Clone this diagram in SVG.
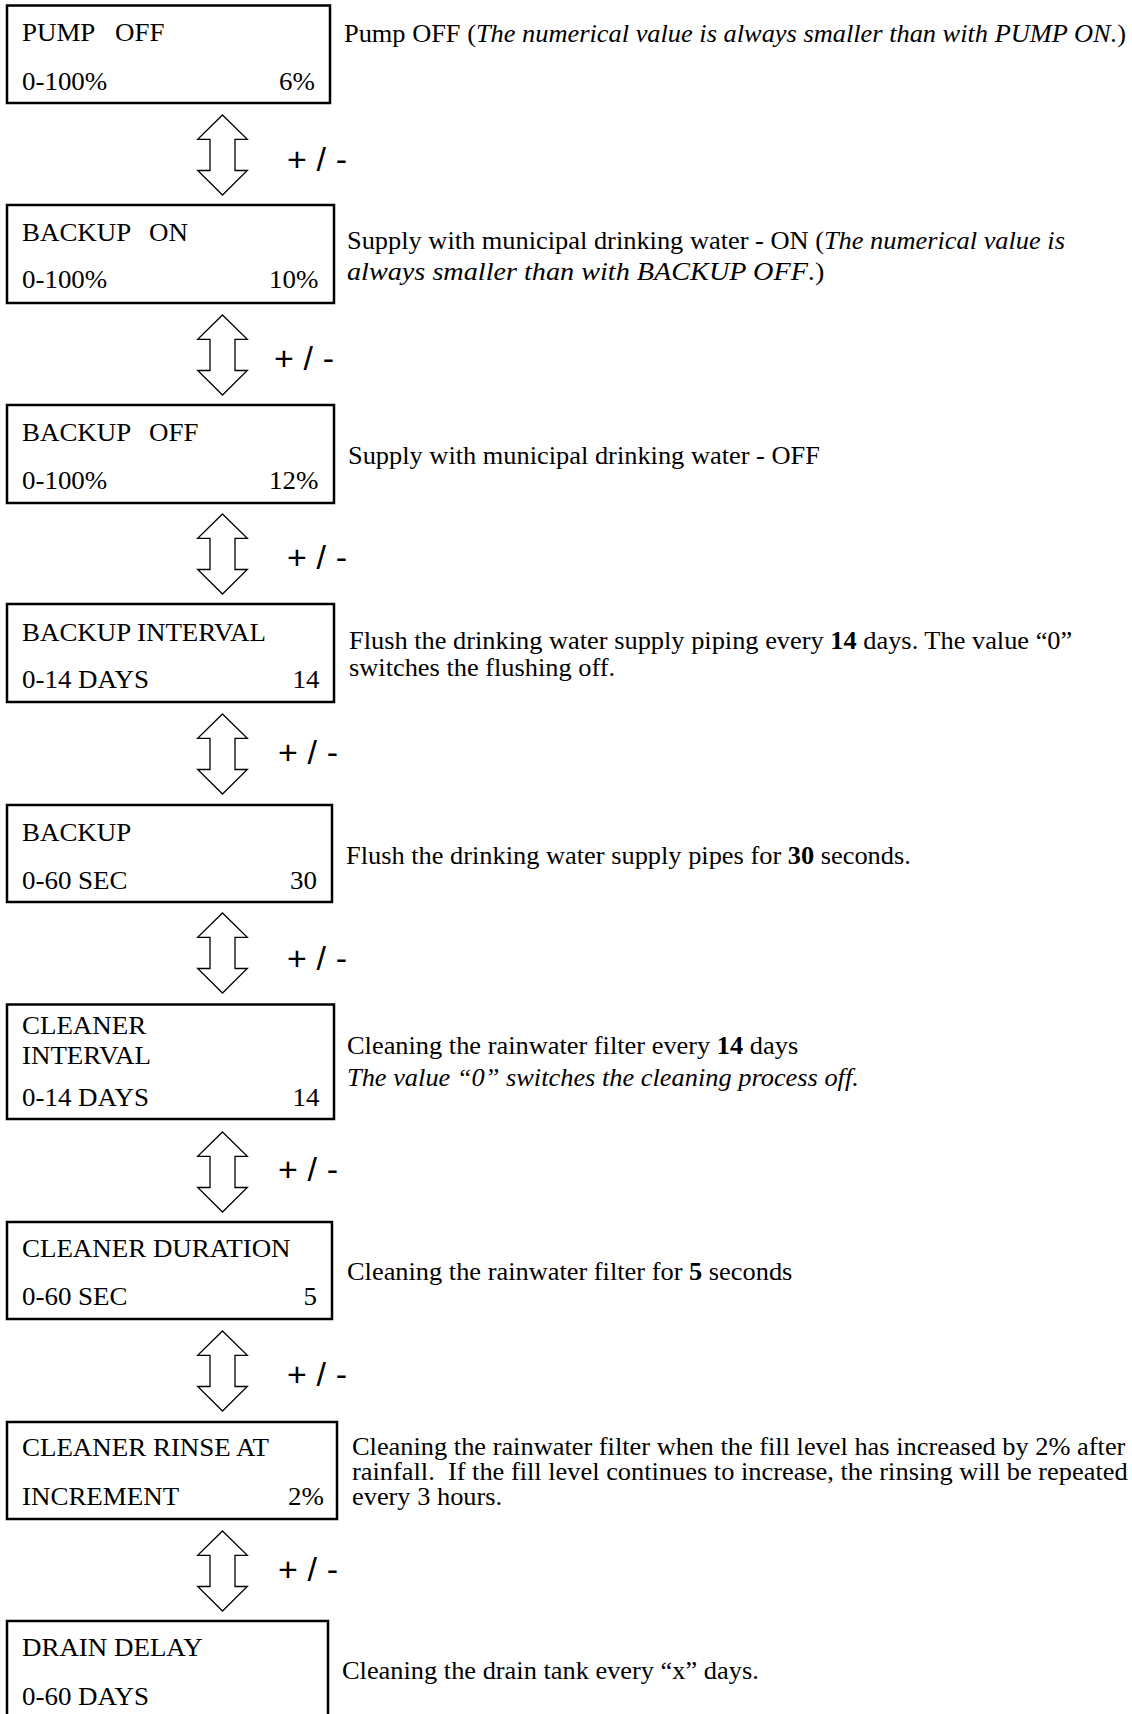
<svg xmlns="http://www.w3.org/2000/svg" width="1132" height="1714" viewBox="0 0 1132 1714">
  <style>
    .box { fill: #ffffff; stroke: #000000; stroke-width: 2.5; }
    .t { font-family: "Liberation Serif", "Times New Roman", serif; font-size: 25.5px; fill: #000000; }
    .d { font-family: "Liberation Serif", "Times New Roman", serif; font-size: 25px; fill: #000000; }
    .r { text-anchor: end; }
    .i { font-style: italic; }
    .b { font-weight: bold; }
    .pm { font-family: "Liberation Sans", Arial, sans-serif; font-size: 34px; fill: #000000; }
    .arrow { fill: #ffffff; stroke: #000000; stroke-width: 1.3; stroke-linejoin: miter; }
  </style>
  <defs>
    <!-- double-headed hollow arrow, tip at origin, 80 tall -->
    <path id="updown" class="arrow" d="M0,0 L24.8,24.3 L12.5,24.3 L12.5,55.5 L24.8,55.5 L0,80 L-24.8,55.5 L-12.5,55.5 L-12.5,24.3 L-24.8,24.3 Z"/>
  </defs>
  <rect width="1132" height="1714" fill="#ffffff"/>

  <!-- menu screens (box text widened 1.057x) and their explanations (1.056x) -->
  <g id="pump-off">
    <rect class="box" x="7" y="5.5" width="323" height="97.5"/>
    <g transform="scale(1.057 1)">
      <text class="t" x="20.81" y="41">PUMP<tspan x="108.8">OFF</tspan></text>
      <text class="t" x="20.81" y="90">0-100%</text>
      <text class="t r" x="298.01" y="90">6%</text>
    </g>
    <g transform="scale(1.056 1)">
      <text class="d" x="325.76" y="42">Pump OFF (<tspan class="i">The numerical value is always smaller than with PUMP ON.</tspan>)</text>
    </g>
  </g>

  <g id="backup-on">
    <rect class="box" x="7" y="205" width="327" height="98"/>
    <g transform="scale(1.057 1)">
      <text class="t" x="20.81" y="241">BACKUP<tspan x="140.96">ON</tspan></text>
      <text class="t" x="20.81" y="288">0-100%</text>
      <text class="t r" x="301.32" y="288">10%</text>
    </g>
    <g transform="scale(1.056 1)">
      <text class="d" x="328.6" y="249">Supply with municipal drinking water - ON (<tspan class="i">The numerical value is</tspan></text>
      <text class="d" x="328.6" y="280" textLength="452" lengthAdjust="spacingAndGlyphs"><tspan class="i">always smaller than with BACKUP OFF</tspan>.)</text>
    </g>
  </g>

  <g id="backup-off">
    <rect class="box" x="7" y="405" width="327" height="98"/>
    <g transform="scale(1.057 1)">
      <text class="t" x="20.81" y="441">BACKUP<tspan x="140.96">OFF</tspan></text>
      <text class="t" x="20.81" y="489">0-100%</text>
      <text class="t r" x="301.32" y="489">12%</text>
    </g>
    <g transform="scale(1.056 1)">
      <text class="d" x="329.55" y="464">Supply with municipal drinking water - OFF</text>
    </g>
  </g>

  <g id="backup-interval">
    <rect class="box" x="7" y="604" width="327" height="98"/>
    <g transform="scale(1.057 1)">
      <text class="t" x="20.81" y="641">BACKUP INTERVAL</text>
      <text class="t" x="20.81" y="688">0-14 DAYS</text>
      <text class="t r" x="302.27" y="688">14</text>
    </g>
    <g transform="scale(1.056 1)">
      <text class="d" x="330.49" y="649">Flush the drinking water supply piping every <tspan class="b">14</tspan> days. The value “0”</text>
      <text class="d" x="330.49" y="676">switches the flushing off.</text>
    </g>
  </g>

  <g id="backup-duration">
    <rect class="box" x="7" y="805" width="325" height="97"/>
    <g transform="scale(1.057 1)">
      <text class="t" x="20.81" y="841">BACKUP</text>
      <text class="t" x="20.81" y="889">0-60 SEC</text>
      <text class="t r" x="299.91" y="889">30</text>
    </g>
    <g transform="scale(1.056 1)">
      <text class="d" x="327.65" y="864">Flush the drinking water supply pipes for <tspan class="b">30</tspan> seconds.</text>
    </g>
  </g>

  <g id="cleaner-interval">
    <rect class="box" x="7" y="1004.5" width="327" height="114.5"/>
    <g transform="scale(1.057 1)">
      <text class="t" x="20.81" y="1034">CLEANER</text>
      <text class="t" x="20.81" y="1064">INTERVAL</text>
      <text class="t" x="20.81" y="1106">0-14 DAYS</text>
      <text class="t r" x="302.27" y="1106">14</text>
    </g>
    <g transform="scale(1.056 1)">
      <text class="d" x="328.6" y="1054">Cleaning the rainwater filter every <tspan class="b">14</tspan> days</text>
      <text class="d i" x="328.6" y="1086">The value “0” switches the cleaning process off.</text>
    </g>
  </g>

  <g id="cleaner-duration">
    <rect class="box" x="7" y="1222" width="325" height="97"/>
    <g transform="scale(1.057 1)">
      <text class="t" x="20.81" y="1257">CLEANER DURATION</text>
      <text class="t" x="20.81" y="1305">0-60 SEC</text>
      <text class="t r" x="299.91" y="1305">5</text>
    </g>
    <g transform="scale(1.056 1)">
      <text class="d" x="328.6" y="1280">Cleaning the rainwater filter for <tspan class="b">5</tspan> seconds</text>
    </g>
  </g>

  <g id="cleaner-rinse">
    <rect class="box" x="7" y="1422" width="330" height="97"/>
    <g transform="scale(1.057 1)">
      <text class="t" x="20.81" y="1456">CLEANER RINSE AT</text>
      <text class="t" x="20.81" y="1505">INCREMENT</text>
      <text class="t r" x="306.53" y="1505">2%</text>
    </g>
    <g transform="scale(1.056 1)">
      <text class="d" x="333.33" y="1455">Cleaning the rainwater filter when the fill level has increased by 2% after</text>
      <text class="d" x="333.33" y="1480" style="white-space:pre">rainfall.  If the fill level continues to increase, the rinsing will be repeated</text>
      <text class="d" x="333.33" y="1505">every 3 hours.</text>
    </g>
  </g>

  <g id="drain-delay">
    <rect class="box" x="7" y="1621" width="321" height="110"/>
    <g transform="scale(1.057 1)">
      <text class="t" x="20.81" y="1656">DRAIN DELAY</text>
      <text class="t" x="20.81" y="1705">0-60 DAYS</text>
    </g>
    <g transform="scale(1.056 1)">
      <text class="d" x="323.86" y="1679">Cleaning the drain tank every “x” days.</text>
    </g>
  </g>

  <!-- +/- step arrows between screens -->
  <g id="connectors">
    <use href="#updown" x="222.5" y="115"/>
    <text class="pm" x="287" y="171" textLength="60" lengthAdjust="spacing" style="white-space:pre">+ / -</text>
    <use href="#updown" x="222.5" y="315"/>
    <text class="pm" x="274" y="370" textLength="60" lengthAdjust="spacing" style="white-space:pre">+ / -</text>
    <use href="#updown" x="222.5" y="514"/>
    <text class="pm" x="287" y="569" textLength="60" lengthAdjust="spacing" style="white-space:pre">+ / -</text>
    <use href="#updown" x="222.5" y="714"/>
    <text class="pm" x="278" y="764" textLength="60" lengthAdjust="spacing" style="white-space:pre">+ / -</text>
    <use href="#updown" x="222.5" y="913"/>
    <text class="pm" x="287" y="970" textLength="60" lengthAdjust="spacing" style="white-space:pre">+ / -</text>
    <use href="#updown" x="222.5" y="1132"/>
    <text class="pm" x="278" y="1181" textLength="60" lengthAdjust="spacing" style="white-space:pre">+ / -</text>
    <use href="#updown" x="222.5" y="1331"/>
    <text class="pm" x="287" y="1386" textLength="60" lengthAdjust="spacing" style="white-space:pre">+ / -</text>
    <use href="#updown" x="222.5" y="1531"/>
    <text class="pm" x="278" y="1581" textLength="60" lengthAdjust="spacing" style="white-space:pre">+ / -</text>
  </g>
</svg>
